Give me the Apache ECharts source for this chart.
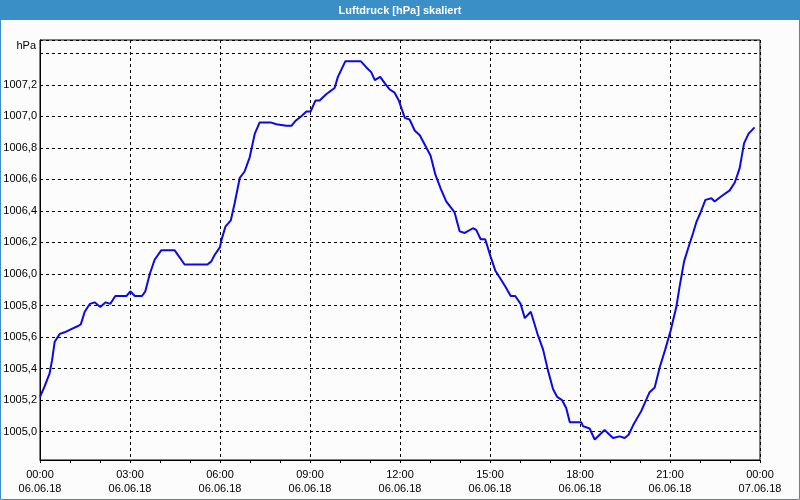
<!DOCTYPE html>
<html>
<head>
<meta charset="utf-8">
<script src="https://cdn.jsdelivr.net/npm/echarts@6/dist/echarts.min.js"></script>
<style>
html,body{margin:0;padding:0;background:#fcfcfc;}
#chart{width:800px;height:500px;}
</style>
</head>
<body>
<div id="chart"></div>
<script>
// Time in hours since 06.06.18 00:00
var hours = [0, 0.16, 0.32, 0.4, 0.49, 0.66, 0.82, 1.04, 1.27, 1.36, 1.49, 1.66, 1.82, 2.01, 2.19, 2.34, 2.51, 2.88, 3.01, 3.16, 3.4, 3.51, 3.66, 3.82, 4.04, 4.49, 4.82, 5.58, 5.71, 5.82, 6.0, 6.04, 6.18, 6.36, 6.49, 6.66, 6.82, 6.99, 7.16, 7.32, 7.71, 7.88, 8.21, 8.38, 8.51, 8.71, 8.88, 9.02, 9.18, 9.32, 9.54, 9.82, 9.93, 10.18, 10.69, 10.88, 11.04, 11.16, 11.34, 11.49, 11.66, 11.82, 11.96, 12.05, 12.16, 12.32, 12.49, 12.66, 12.88, 13.02, 13.18, 13.36, 13.54, 13.82, 13.99, 14.16, 14.43, 14.54, 14.69, 14.84, 15.02, 15.18, 15.38, 15.51, 15.69, 15.84, 16.02, 16.16, 16.36, 16.6, 16.77, 16.93, 17.1, 17.24, 17.4, 17.54, 17.66, 18.04, 18.1, 18.32, 18.49, 18.82, 19.1, 19.32, 19.49, 19.62, 19.77, 20.04, 20.32, 20.49, 20.66, 20.84, 21.02, 21.21, 21.32, 21.47, 21.6, 21.77, 21.88, 22.02, 22.18, 22.38, 22.49, 22.69, 22.99, 23.16, 23.32, 23.47, 23.62, 23.82];
var pressure = [1005.22, 1005.29, 1005.37, 1005.45, 1005.57, 1005.62, 1005.63, 1005.65, 1005.67, 1005.68, 1005.76, 1005.81, 1005.82, 1005.79, 1005.82, 1005.81, 1005.86, 1005.86, 1005.89, 1005.86, 1005.86, 1005.89, 1006.0, 1006.09, 1006.15, 1006.15, 1006.06, 1006.06, 1006.08, 1006.12, 1006.17, 1006.21, 1006.30, 1006.34, 1006.45, 1006.61, 1006.65, 1006.74, 1006.89, 1006.96, 1006.96, 1006.95, 1006.94, 1006.94, 1006.97, 1007.0, 1007.03, 1007.03, 1007.10, 1007.10, 1007.14, 1007.18, 1007.25, 1007.35, 1007.35, 1007.31, 1007.28, 1007.23, 1007.25, 1007.21, 1007.17, 1007.15, 1007.10, 1007.05, 1006.99, 1006.98, 1006.91, 1006.88, 1006.80, 1006.75, 1006.63, 1006.54, 1006.46, 1006.39, 1006.27, 1006.26, 1006.29, 1006.28, 1006.22, 1006.22, 1006.11, 1006.02, 1005.96, 1005.92, 1005.86, 1005.86, 1005.81, 1005.72, 1005.76, 1005.61, 1005.52, 1005.39, 1005.27, 1005.22, 1005.20, 1005.15, 1005.06, 1005.06, 1005.035, 1005.02, 1004.95, 1005.01, 1004.96, 1004.97, 1004.96, 1004.98, 1005.04, 1005.13, 1005.25, 1005.28, 1005.41, 1005.52, 1005.64, 1005.79, 1005.92, 1006.08, 1006.16, 1006.26, 1006.33, 1006.39, 1006.47, 1006.48, 1006.46, 1006.49, 1006.53, 1006.58, 1006.67, 1006.83, 1006.89, 1006.93];
var xTickLabels = ['00:00\n06.06.18', '03:00\n06.06.18', '06:00\n06.06.18', '09:00\n06.06.18', '12:00\n06.06.18', '15:00\n06.06.18', '18:00\n06.06.18', '21:00\n06.06.18', '00:00\n07.06.18'];
var yLabelledTicks = ['1005,0', '1005,2', '1005,4', '1005,6', '1005,8', '1006,0', '1006,2', '1006,4', '1006,6', '1006,8', '1007,0', '1007,2'];
var titleText = 'Luftdruck [hPa] skaliert';
var unitText = 'hPa';

var seriesData = hours.map(function (h, i) { return [h, pressure[i]]; });
var FONT = 'Liberation Sans';

var chart = echarts.init(document.getElementById('chart'), null, {renderer: 'canvas'});
chart.setOption({
  backgroundColor: '#fcfcfc',
  animation: false,
  title: {
    text: titleText,
    left: 'center',
    top: 0,
    padding: [5, 5, 5, 5],
    textStyle: {color: '#ffffff', fontSize: 11, fontWeight: 'bold', fontFamily: FONT}
  },
  graphic: [
    {type: 'rect', z: -1, silent: true, shape: {x: 0, y: 0, width: 800, height: 20}, style: {fill: '#3b8fc7'}},
    {type: 'rect', z: 100, silent: true, shape: {x: 0.5, y: 0.5, width: 799, height: 499}, style: {fill: 'none', stroke: '#3b8fc7', lineWidth: 1}},
    {type: 'text', silent: true, style: {text: unitText, x: 36, y: 46, align: 'right', verticalAlign: 'middle', fill: '#000', fontSize: 11, fontFamily: FONT}}
  ],
  grid: {
    left: 40, right: 40, top: 40, bottom: 40,
    show: true, borderColor: '#000', borderWidth: 1, backgroundColor: 'transparent'
  },
  xAxis: {
    type: 'value',
    min: 0, max: 24, interval: 3,
    axisLine: {show: true, lineStyle: {color: '#000', width: 1}},
    axisTick: {show: true, length: 3, lineStyle: {color: '#000'}},
    minorTick: {show: true, splitNumber: 3, length: 3, lineStyle: {color: '#000'}},
    splitLine: {show: true, lineStyle: {color: '#000', type: [3, 3], width: 1}},
    axisLabel: {
      color: '#000', fontSize: 11, fontFamily: FONT, margin: 8, lineHeight: 14,
      formatter: function (v) { var i = Math.round(v / 3); return xTickLabels[i] || ''; }
    }
  },
  yAxis: {
    type: 'value',
    min: 1004.82, max: 1007.484,
    minInterval: 0.2, maxInterval: 0.2,
    axisLine: {show: true, lineStyle: {color: '#000', width: 1}},
    axisTick: {show: false},
    splitLine: {show: true, lineStyle: {color: '#000', type: [3, 3], width: 1}},
    axisLabel: {
      color: '#000', fontSize: 11, fontFamily: FONT, margin: 3,
      showMinLabel: false, showMaxLabel: false,
      formatter: function (v) {
        var s = v.toFixed(1).replace('.', ',');
        return yLabelledTicks.indexOf(s) >= 0 ? s : '';
      }
    }
  },
  series: [{
    type: 'line',
    data: seriesData,
    showSymbol: false,
    smooth: false,
    lineStyle: {color: '#0a0ae6', width: 2},
    itemStyle: {color: '#0a0ae6'}
  }]
});
</script>
</body>
</html>
